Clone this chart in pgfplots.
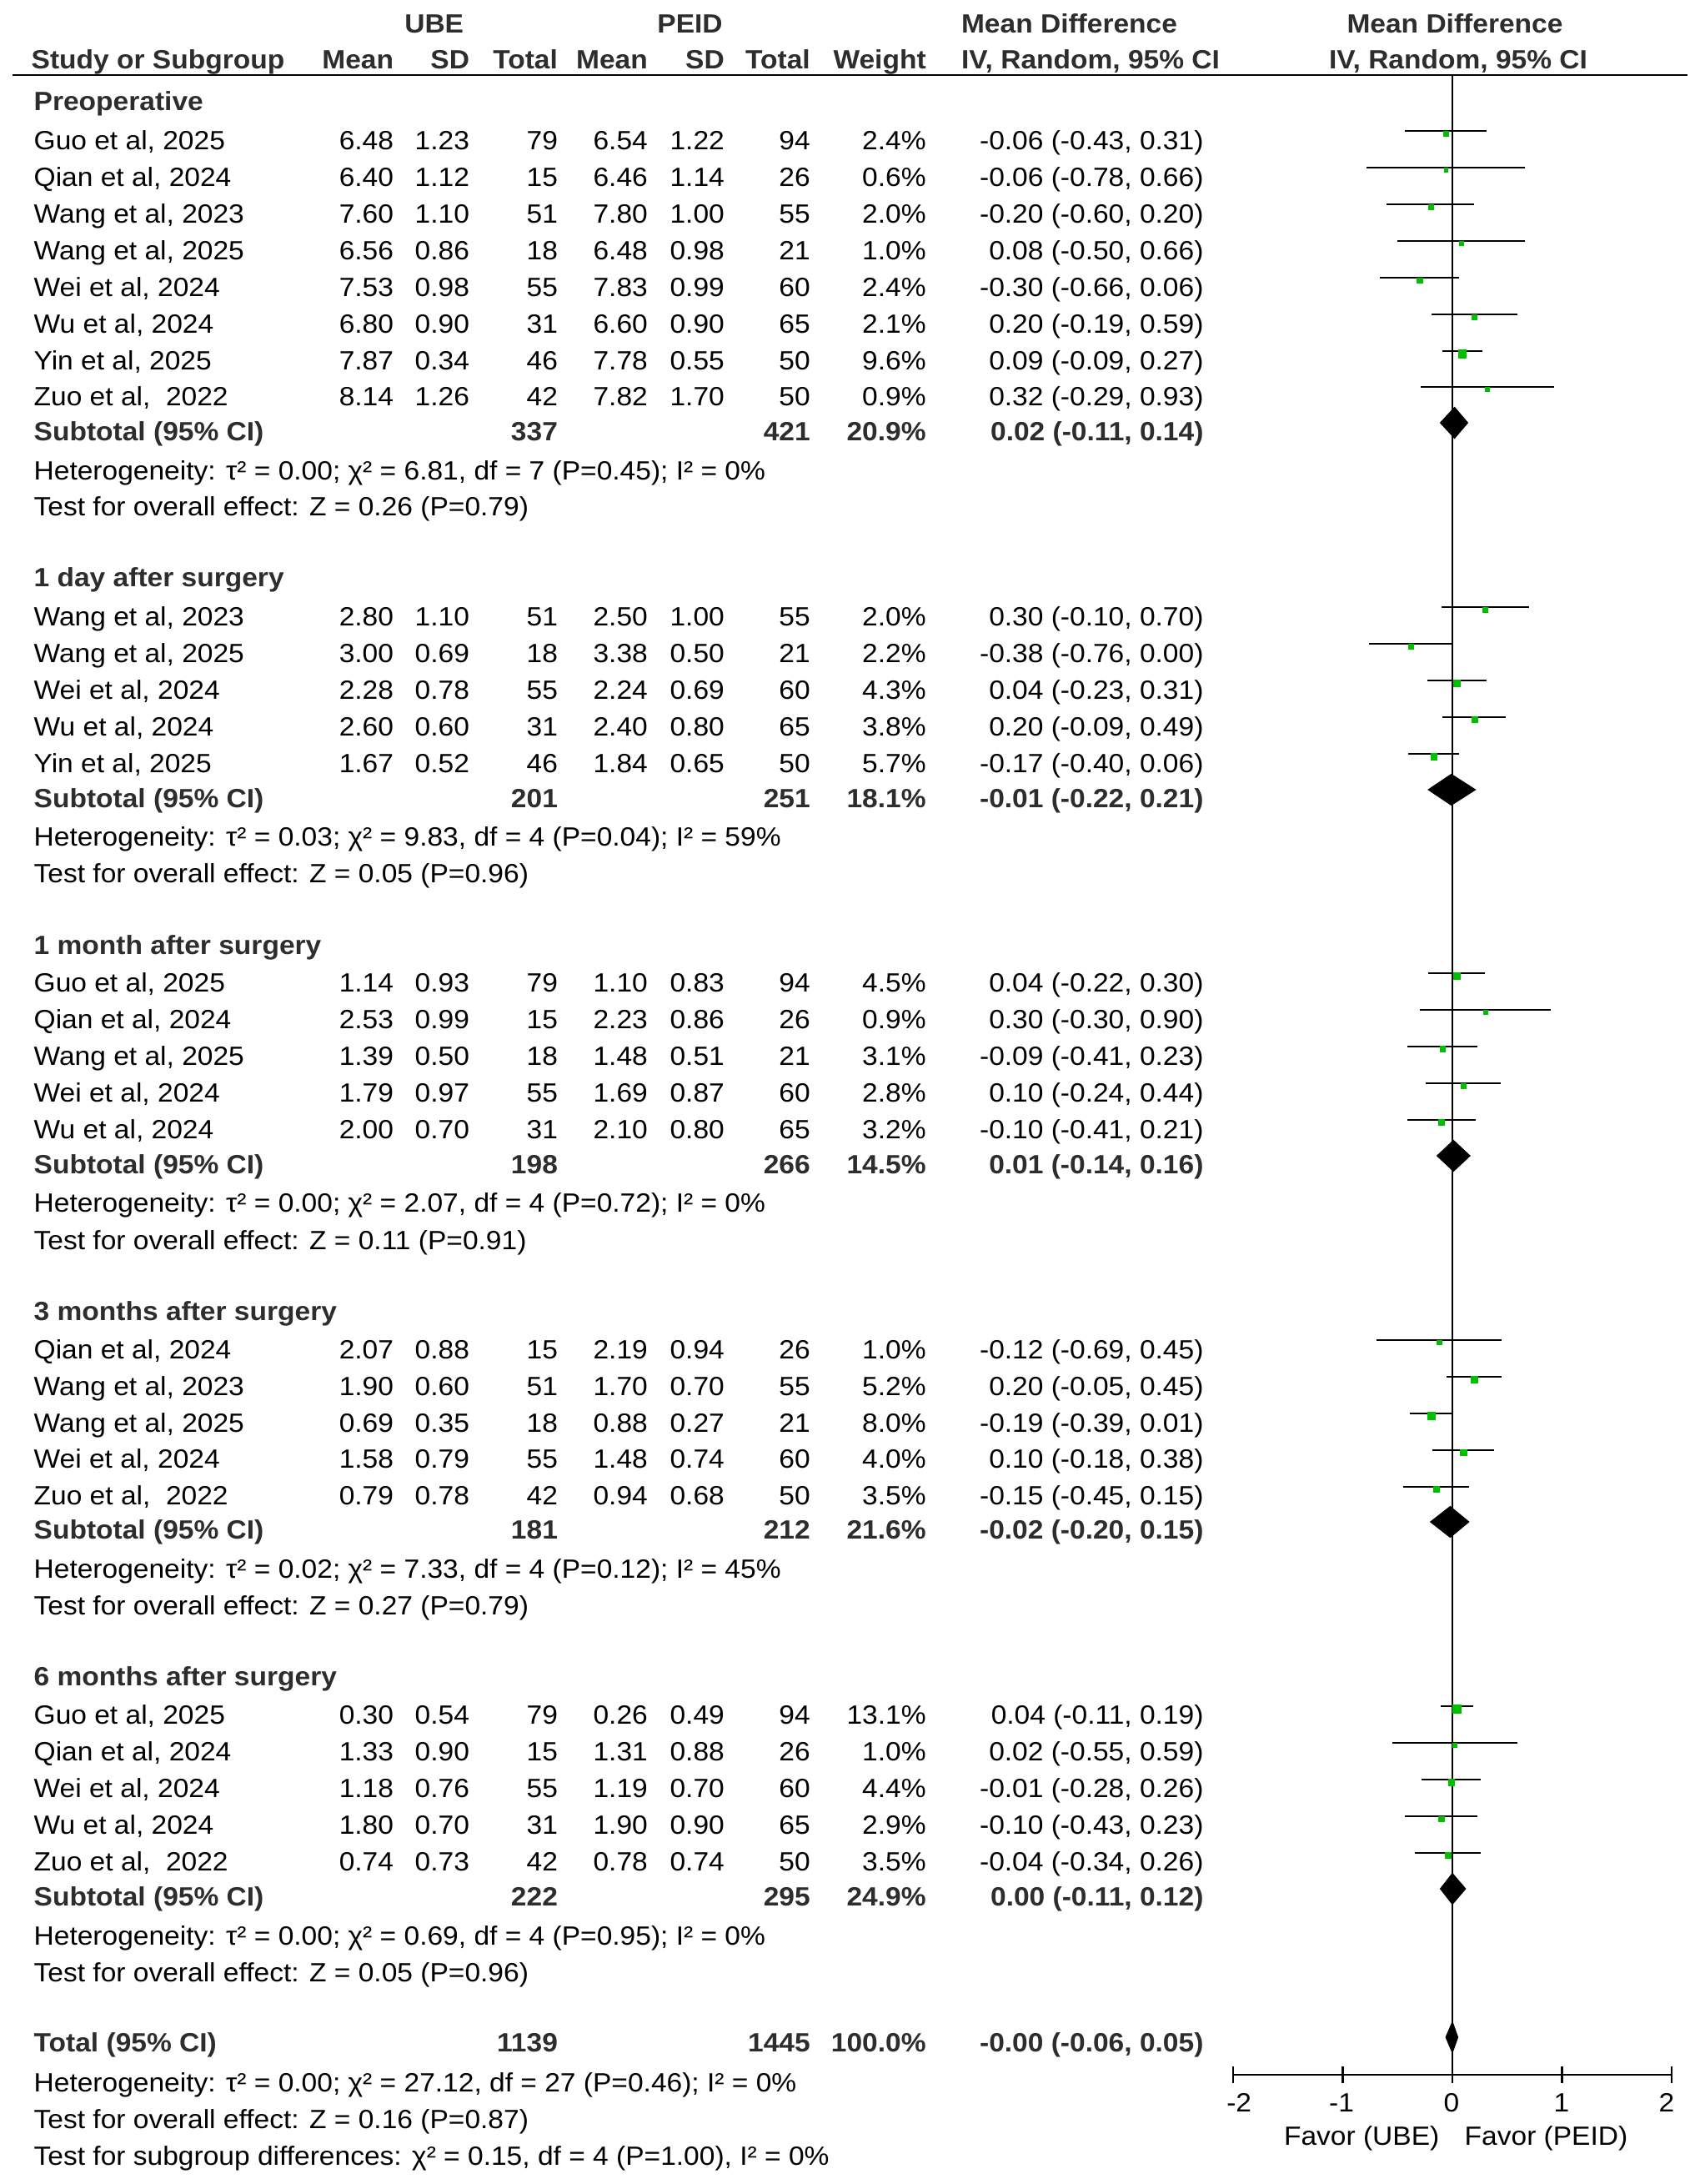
\documentclass[border=0pt]{standalone}
\usepackage{fontspec}
\setmainfont{Liberation Sans}[FakeStretch=1.06]
\usepackage{pgfplots}
\pgfplotsset{compat=1.18}
\usepackage{pgfplotstable}
\definecolor{sqgreen}{RGB}{0,190,0}
\definecolor{boldgray}{RGB}{45,45,45}

% study rows: tc = text row position (px from top), md, lo, hi, weight (%)
\pgfplotstableread{
tc md lo hi w
167 -0.06 -0.43 0.31 2.4
211 -0.06 -0.78 0.66 0.6
255 -0.20 -0.60 0.20 2.0
299 0.08 -0.50 0.66 1.0
343 -0.30 -0.66 0.06 2.4
387 0.20 -0.19 0.59 2.1
431 0.09 -0.09 0.27 9.6
474 0.32 -0.29 0.93 0.9
738 0.30 -0.10 0.70 2.0
782 -0.38 -0.76 0.00 2.2
826 0.04 -0.23 0.31 4.3
870 0.20 -0.09 0.49 3.8
914 -0.17 -0.40 0.06 5.7
1177 0.04 -0.22 0.30 4.5
1221 0.30 -0.30 0.90 0.9
1265 -0.09 -0.41 0.23 3.1
1309 0.10 -0.24 0.44 2.8
1353 -0.10 -0.41 0.21 3.2
1617 -0.12 -0.69 0.45 1.0
1661 0.20 -0.05 0.45 5.2
1705 -0.19 -0.39 0.01 8.0
1749 0.10 -0.18 0.38 4.0
1793 -0.15 -0.45 0.15 3.5
2056 0.04 -0.11 0.19 13.1
2100 0.02 -0.55 0.59 1.0
2144 -0.01 -0.28 0.26 4.4
2188 -0.10 -0.43 0.23 2.9
2232 -0.04 -0.34 0.26 3.5
}\studies

\newcommand{\B}[1]{{\bfseries\color{boldgray}#1}}
\newcommand{\lt}[2]{\node[anchor=base west, inner sep=0pt] at (40,{#1+13}) {#2};}
\newcommand{\rt}[3]{\node[anchor=base east, inner sep=0pt] at (#1,{#2+13}) {#3};}
\newcommand{\study}[9]{\def\ty{#1}\lt{#1}{#2}\rt{473}{#1}{#3}\rt{564}{#1}{#4}\rt{670}{#1}{#5}\rt{778}{#1}{#6}\rt{870}{#1}{#7}\rt{973}{#1}{#8}\rt{1112}{#1}{#9}\studyci}
\newcommand{\studyci}[1]{\rt{1445}{\ty}{#1}}
\newcommand{\subtot}[6]{\lt{#1}{\B{#2}}\rt{670}{#1}{\B{#3}}\rt{973}{#1}{\B{#4}}\rt{1112}{#1}{\B{#5}}\rt{1445}{#1}{\B{#6}}}

\begin{document}
\fontsize{9pt}{11pt}\selectfont
\begin{tikzpicture}
\useasboundingbox (0,0) rectangle (20.32cm,-26.19cm);

\begin{axis}[
  scale only axis, width=5.26cm, height=23.98cm,
  at={(14.79cm,-24.88cm)}, anchor=south west,
  xmin=-2, xmax=2, ymin=-2488, ymax=-90,
  axis x line=bottom, axis y line=none,
  x axis line style={-, line width=0.75pt, black},
  xtick={-2,-1,0,1,2}, xticklabels={{},{},{},{},{}},
  major tick length=0.2cm, tick align=center,
  tick style={line width=0.75pt, black},
  clip=false]
% line of no effect
\addplot[black, line width=0.55pt] coordinates {(0,-90) (0,-2488)};
% confidence intervals (error bars only, no marks, no connecting line)
\addplot[draw=none, mark=none,
  error bars/.cd, x dir=both, x explicit, error mark=none,
  error bar style={draw=black, solid, line width=0.5pt}]
  table[x=md, y expr={-(\thisrow{tc}-10)},
        x error minus expr={\thisrow{md}-\thisrow{lo}},
        x error plus expr={\thisrow{hi}-\thisrow{md}}] {\studies};
% study squares (size grows with weight)
\addplot[scatter, only marks, mark=square*,
  mark options={draw=sqgreen, fill=sqgreen, line width=0.1pt},
  visualization depends on={\thisrow{w} \as \wt},
  scatter/@pre marker code/.code={\pgfmathsetmacro\msz{0.005*(3.2+2*sqrt(\wt))}\scope[mark size=\msz cm]},
  scatter/@post marker code/.code={\endscope}]
  table[x=md, y expr={-(\thisrow{tc}-7)}] {\studies};
% subtotal and total diamonds
\addplot[fill=black, draw=black, line width=0.3pt] coordinates {(-0.11,-507) (0.02,-488.5) (0.14,-507) (0.02,-525.5)} --cycle;
\addplot[fill=black, draw=black, line width=0.3pt] coordinates {(-0.22,-947) (-0.01,-928.5) (0.21,-947) (-0.01,-965.5)} --cycle;
\addplot[fill=black, draw=black, line width=0.3pt] coordinates {(-0.14,-1386) (0.01,-1367.5) (0.16,-1386) (0.01,-1404.5)} --cycle;
\addplot[fill=black, draw=black, line width=0.3pt] coordinates {(-0.20,-1825) (-0.02,-1806.5) (0.15,-1825) (-0.02,-1843.5)} --cycle;
\addplot[fill=black, draw=black, line width=0.3pt] coordinates {(-0.11,-2265) (0.00,-2246.5) (0.12,-2265) (0.00,-2283.5)} --cycle;
\addplot[fill=black, draw=black, line width=0.3pt] coordinates {(-0.06,-2443) (0.00,-2424.5) (0.05,-2443) (0.00,-2461.5)} --cycle;
\end{axis}

\begin{scope}[x=0.01cm, y=-0.01cm]
% header
\node[anchor=base, inner sep=0pt] at (521,40) {\B{UBE}};
\node[anchor=base, inner sep=0pt] at (828,40) {\B{PEID}};
\node[anchor=base west, inner sep=0pt] at (1153,40) {\B{Mean Difference}};
\node[anchor=base, inner sep=0pt] at (1746,40) {\B{Mean Difference}};
\node[anchor=base west, inner sep=0pt] at (37,83) {\B{Study or Subgroup}};
\rt{473}{70}{\B{Mean}}
\rt{564}{70}{\B{SD}}
\rt{670}{70}{\B{Total}}
\rt{778}{70}{\B{Mean}}
\rt{870}{70}{\B{SD}}
\rt{973}{70}{\B{Total}}
\rt{1112}{70}{\B{Weight}}
\node[anchor=base west, inner sep=0pt] at (1153,83) {\B{IV, Random, 95\% CI}};
\node[anchor=base, inner sep=0pt] at (1750,83) {\B{IV, Random, 95\% CI}};
\draw[line width=0.75pt] (15,90) -- (2025,90);

% Preoperative
\lt{120}{\B{Preoperative}}
\study{167}{Guo et al, 2025}{6.48}{1.23}{79}{6.54}{1.22}{94}{2.4\%}{-0.06 (-0.43, 0.31)}
\study{211}{Qian et al, 2024}{6.40}{1.12}{15}{6.46}{1.14}{26}{0.6\%}{-0.06 (-0.78, 0.66)}
\study{255}{Wang et al, 2023}{7.60}{1.10}{51}{7.80}{1.00}{55}{2.0\%}{-0.20 (-0.60, 0.20)}
\study{299}{Wang et al, 2025}{6.56}{0.86}{18}{6.48}{0.98}{21}{1.0\%}{0.08 (-0.50, 0.66)}
\study{343}{Wei et al, 2024}{7.53}{0.98}{55}{7.83}{0.99}{60}{2.4\%}{-0.30 (-0.66, 0.06)}
\study{387}{Wu et al, 2024}{6.80}{0.90}{31}{6.60}{0.90}{65}{2.1\%}{0.20 (-0.19, 0.59)}
\study{431}{Yin et al, 2025}{7.87}{0.34}{46}{7.78}{0.55}{50}{9.6\%}{0.09 (-0.09, 0.27)}
\study{474}{Zuo et al,\ \ 2022}{8.14}{1.26}{42}{7.82}{1.70}{50}{0.9\%}{0.32 (-0.29, 0.93)}
\subtot{516}{Subtotal (95\% CI)}{337}{421}{20.9\%}{0.02 (-0.11, 0.14)}
\lt{563}{Heterogeneity: τ² = 0.00; χ² = 6.81, df = 7 (P=0.45); I² = 0\%}
\lt{606}{Test for overall effect: Z = 0.26 (P=0.79)}

% 1 day
\lt{691}{\B{1 day after surgery}}
\study{738}{Wang et al, 2023}{2.80}{1.10}{51}{2.50}{1.00}{55}{2.0\%}{0.30 (-0.10, 0.70)}
\study{782}{Wang et al, 2025}{3.00}{0.69}{18}{3.38}{0.50}{21}{2.2\%}{-0.38 (-0.76, 0.00)}
\study{826}{Wei et al, 2024}{2.28}{0.78}{55}{2.24}{0.69}{60}{4.3\%}{0.04 (-0.23, 0.31)}
\study{870}{Wu et al, 2024}{2.60}{0.60}{31}{2.40}{0.80}{65}{3.8\%}{0.20 (-0.09, 0.49)}
\study{914}{Yin et al, 2025}{1.67}{0.52}{46}{1.84}{0.65}{50}{5.7\%}{-0.17 (-0.40, 0.06)}
\subtot{956}{Subtotal (95\% CI)}{201}{251}{18.1\%}{-0.01 (-0.22, 0.21)}
\lt{1002}{Heterogeneity: τ² = 0.03; χ² = 9.83, df = 4 (P=0.04); I² = 59\%}
\lt{1046}{Test for overall effect: Z = 0.05 (P=0.96)}

% 1 month
\lt{1132}{\B{1 month after surgery}}
\study{1177}{Guo et al, 2025}{1.14}{0.93}{79}{1.10}{0.83}{94}{4.5\%}{0.04 (-0.22, 0.30)}
\study{1221}{Qian et al, 2024}{2.53}{0.99}{15}{2.23}{0.86}{26}{0.9\%}{0.30 (-0.30, 0.90)}
\study{1265}{Wang et al, 2025}{1.39}{0.50}{18}{1.48}{0.51}{21}{3.1\%}{-0.09 (-0.41, 0.23)}
\study{1309}{Wei et al, 2024}{1.79}{0.97}{55}{1.69}{0.87}{60}{2.8\%}{0.10 (-0.24, 0.44)}
\study{1353}{Wu et al, 2024}{2.00}{0.70}{31}{2.10}{0.80}{65}{3.2\%}{-0.10 (-0.41, 0.21)}
\subtot{1395}{Subtotal (95\% CI)}{198}{266}{14.5\%}{0.01 (-0.14, 0.16)}
\lt{1441}{Heterogeneity: τ² = 0.00; χ² = 2.07, df = 4 (P=0.72); I² = 0\%}
\lt{1486}{Test for overall effect: Z = 0.11 (P=0.91)}

% 3 months
\lt{1571}{\B{3 months after surgery}}
\study{1617}{Qian et al, 2024}{2.07}{0.88}{15}{2.19}{0.94}{26}{1.0\%}{-0.12 (-0.69, 0.45)}
\study{1661}{Wang et al, 2023}{1.90}{0.60}{51}{1.70}{0.70}{55}{5.2\%}{0.20 (-0.05, 0.45)}
\study{1705}{Wang et al, 2025}{0.69}{0.35}{18}{0.88}{0.27}{21}{8.0\%}{-0.19 (-0.39, 0.01)}
\study{1749}{Wei et al, 2024}{1.58}{0.79}{55}{1.48}{0.74}{60}{4.0\%}{0.10 (-0.18, 0.38)}
\study{1793}{Zuo et al,\ \ 2022}{0.79}{0.78}{42}{0.94}{0.68}{50}{3.5\%}{-0.15 (-0.45, 0.15)}
\subtot{1834}{Subtotal (95\% CI)}{181}{212}{21.6\%}{-0.02 (-0.20, 0.15)}
\lt{1881}{Heterogeneity: τ² = 0.02; χ² = 7.33, df = 4 (P=0.12); I² = 45\%}
\lt{1925}{Test for overall effect: Z = 0.27 (P=0.79)}

% 6 months
\lt{2010}{\B{6 months after surgery}}
\study{2056}{Guo et al, 2025}{0.30}{0.54}{79}{0.26}{0.49}{94}{13.1\%}{0.04 (-0.11, 0.19)}
\study{2100}{Qian et al, 2024}{1.33}{0.90}{15}{1.31}{0.88}{26}{1.0\%}{0.02 (-0.55, 0.59)}
\study{2144}{Wei et al, 2024}{1.18}{0.76}{55}{1.19}{0.70}{60}{4.4\%}{-0.01 (-0.28, 0.26)}
\study{2188}{Wu et al, 2024}{1.80}{0.70}{31}{1.90}{0.90}{65}{2.9\%}{-0.10 (-0.43, 0.23)}
\study{2232}{Zuo et al,\ \ 2022}{0.74}{0.73}{42}{0.78}{0.74}{50}{3.5\%}{-0.04 (-0.34, 0.26)}
\subtot{2274}{Subtotal (95\% CI)}{222}{295}{24.9\%}{0.00 (-0.11, 0.12)}
\lt{2321}{Heterogeneity: τ² = 0.00; χ² = 0.69, df = 4 (P=0.95); I² = 0\%}
\lt{2365}{Test for overall effect: Z = 0.05 (P=0.96)}

% Total
\subtot{2449}{Total (95\% CI)}{1139}{1445}{100.0\%}{-0.00 (-0.06, 0.05)}
\lt{2497}{Heterogeneity: τ² = 0.00; χ² = 27.12, df = 27 (P=0.46); I² = 0\%}
\lt{2541}{Test for overall effect: Z = 0.16 (P=0.87)}
\lt{2585}{Test for subgroup differences: χ² = 0.15, df = 4 (P=1.00), I² = 0\%}

% axis tick labels and direction labels
\node[anchor=base, inner sep=0pt] at (1487,2534) {-2};
\node[anchor=base, inner sep=0pt] at (1610,2534) {-1};
\node[anchor=base, inner sep=0pt] at (1742,2534) {0};
\node[anchor=base, inner sep=0pt] at (1874,2534) {1};
\node[anchor=base, inner sep=0pt] at (2000,2534) {2};
\node[anchor=base east, inner sep=0pt] at (1728,2574) {Favor (UBE)};
\node[anchor=base west, inner sep=0pt] at (1757,2574) {Favor (PEID)};
\end{scope}
\end{tikzpicture}
\end{document}
